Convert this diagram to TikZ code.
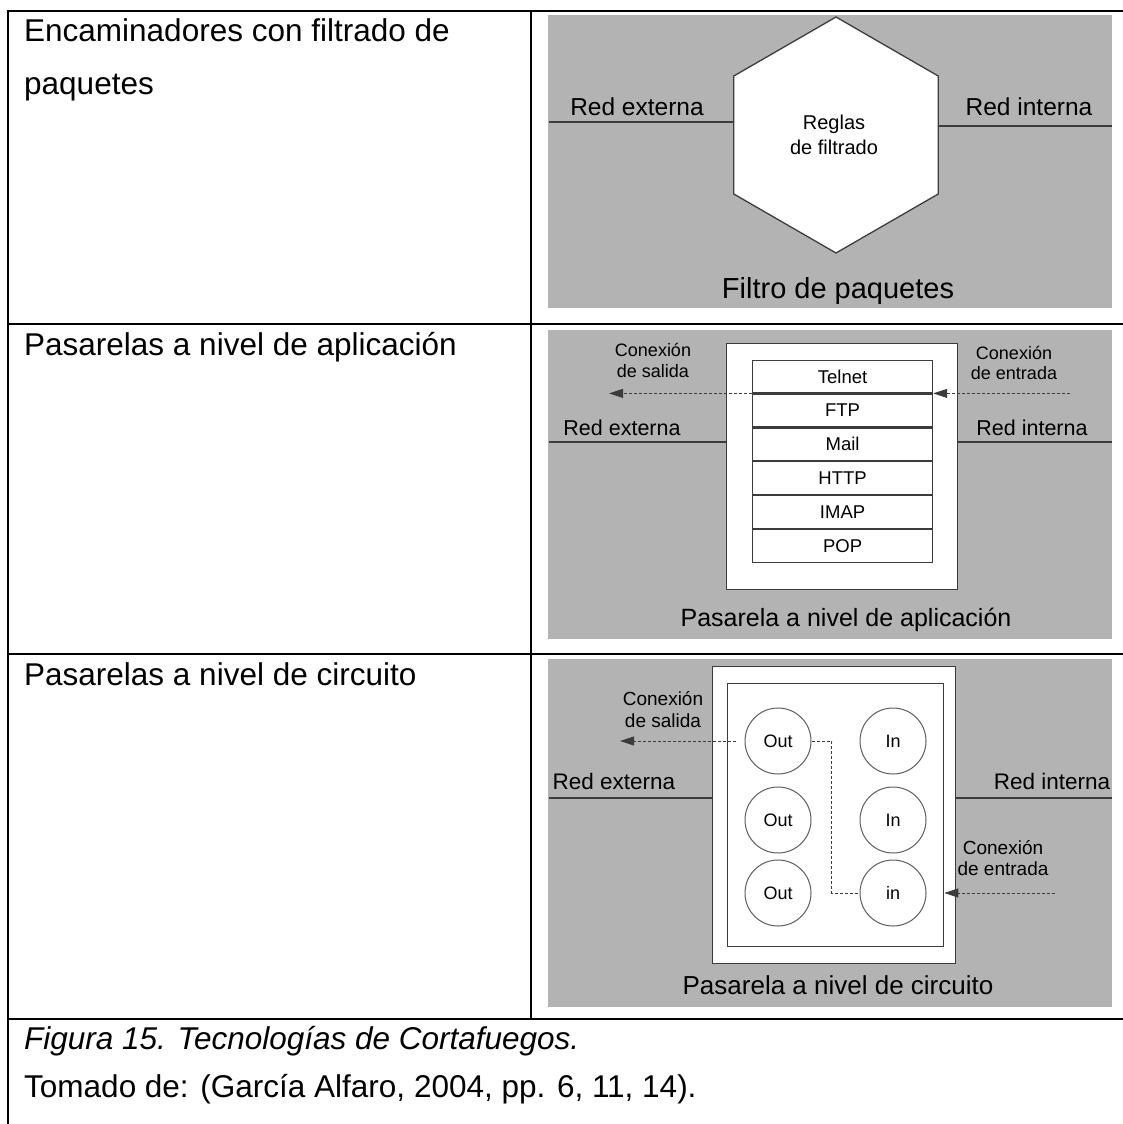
\documentclass[tikz,border=0pt]{standalone}
\usepackage{fontspec}
\setmainfont{Liberation Sans}
\usetikzlibrary{arrows.meta,calc}
\definecolor{panelgray}{RGB}{179,179,179}
\definecolor{inkgray}{RGB}{60,60,60}
\definecolor{ringgray}{RGB}{95,95,95}
\newcommand{\fsz}[1]{\fontsize{#1}{#1}\selectfont}
\begin{document}
\begin{tikzpicture}[x=1pt,y=-1pt,
  rule/.style={line width=2.6pt,black},
  panel/.style={fill=panelgray,draw=none},
  ink/.style={draw=inkgray,line width=1.3pt},
  flow/.style={draw=inkgray,line width=0.9pt,dash pattern=on 3pt off 2pt},
  tip/.style={-{Triangle[length=14pt,width=9pt]}},
  celltext/.style={font=\fsz{31.5},anchor=base west,inner sep=0pt},
  lab/.style={anchor=base,inner sep=0pt},
  boxrow/.style={draw=inkgray,line width=1.2pt,fill=white,minimum width=180pt,
    minimum height=32.7pt,inner sep=0pt,anchor=north west,font=\fsz{18.5}},
  port/.style={circle,draw=ringgray,line width=1pt,fill=white,minimum size=66pt,
    inner sep=0pt,font=\fsz{18}},
]
\useasboundingbox (0,0) rectangle (1123,1124);

% ---------- table rules ----------
\draw[rule] (6.7,11) -- (1123,11);
\draw[rule] (6.7,324) -- (1123,324);
\draw[rule] (6.7,654) -- (1123,654);
\draw[rule] (6.7,1019) -- (1123,1019);
\draw[rule] (8,9.7) -- (8,1124);
\draw[rule] (531,11) -- (531,1019);

% ---------- left column ----------
\node[celltext] (t1a) at (24,42) {Encaminadores con filtrado de};
\node[celltext] (t1b) at (24,94) {paquetes};
\node[celltext] (t2) at (24,355) {Pasarelas a nivel de aplicación};
\node[celltext] (t3) at (24,685) {Pasarelas a nivel de circuito};
\node[celltext,font=\fsz{31.5}\itshape] (cap) at (24,1049) {Figura 15. Tecnologías de Cortafuegos.};
\node[celltext] (src) at (24,1097) {Tomado de: (García Alfaro, 2004, pp. 6, 11, 14).};

% ---------- packet filter ----------
\fill[panel] (548,15) rectangle (1112,308);
\coordinate (h1) at (836,17);
\coordinate (h2) at (938.2,76);
\coordinate (h3) at (938.2,194);
\coordinate (h4) at (836,253);
\coordinate (h5) at (733.8,194);
\coordinate (h6) at (733.8,76);
\filldraw[ink,fill=white] (h1) -- (h2) -- (h3) -- (h4) -- (h5) -- (h6) -- cycle;
\coordinate (pfL) at (549,122);
\coordinate (pfR) at (1112,126);
\draw[ink] (pfL) -- (pfL -| h6);
\draw[ink] (pfR -| h2) -- (pfR);
\node[lab,font=\fsz{24.5}] (pfext) at (637,115) {Red externa};
\node[lab,font=\fsz{24.5}] (pfint) at (1029,115) {Red interna};
\node[lab,font=\fsz{20}] (rules1) at (834,129) {Reglas};
\node[lab,font=\fsz{20}] (rules2) at (834,154) {de filtrado};
\node[lab,font=\fsz{29}] (pftitle) at (838,298) {Filtro de paquetes};

% ---------- application gateway ----------
\fill[panel] (548,330) rectangle (1112,639);
\node[draw=inkgray,line width=1.3pt,fill=white,minimum width=231pt,minimum height=246pt,
  inner sep=0pt,anchor=north west] (app) at (726,343) {};
\node[boxrow] (telnet) at (752,359.5) {Telnet};
\node[boxrow] (ftp) at (telnet.south west) {FTP};
\node[boxrow] (mail) at (ftp.south west) {Mail};
\node[boxrow] (http) at (mail.south west) {HTTP};
\node[boxrow] (imap) at (http.south west) {IMAP};
\node[boxrow] (pop) at (imap.south west) {POP};
\coordinate (agL) at (549,442);
\coordinate (agR) at (1112,442);
\draw[ink] (agL) -- (agL -| app.west);
\draw[ink] (agR -| app.east) -- (agR);
\coordinate (agOut) at (609,0 |- telnet.south);
\coordinate (agIn) at (1070,0 |- telnet.south);
\draw[flow,tip] (telnet.south west) -- (agOut);
\draw[flow,tip] (agIn) -- (telnet.south east);
\node[lab,font=\fsz{21.5}] (agext) at (622,435) {Red externa};
\node[lab,font=\fsz{21.5}] (agint) at (1032,435) {Red interna};
\node[lab,font=\fsz{18}] (ago1) at (653,356) {Conexión};
\node[lab,font=\fsz{18}] (ago2) at (653,377) {de salida};
\node[lab,font=\fsz{18}] (agi1) at (1014,359) {Conexión};
\node[lab,font=\fsz{18}] (agi2) at (1014,379) {de entrada};
\node[lab,font=\fsz{25}] (agtitle) at (846,626) {Pasarela a nivel de aplicación};

% ---------- circuit gateway ----------
\fill[panel] (548,659) rectangle (1112,1007);
\node[draw=inkgray,line width=1.3pt,fill=white,minimum width=243pt,minimum height=297pt,
  inner sep=0pt,anchor=north west] (circ) at (712,666) {};
\node[draw=inkgray,line width=1.3pt,fill=white,minimum width=216pt,minimum height=263pt,
  inner sep=0pt,anchor=north west] (core) at (727,683) {};
\node[port] (out1) at (778,741) {Out};
\node[port] (out2) at (778,820) {Out};
\node[port] (out3) at (778,893) {Out};
\node[port] (in1) at (893,741) {In};
\node[port] (in2) at (893,820) {In};
\node[port] (in3) at (893,893) {in};
\coordinate (cgL) at (549,798);
\coordinate (cgR) at (1112,798);
\draw[ink] (cgL) -- (cgL -| circ.west);
\draw[ink] (cgR -| circ.east) -- (cgR);
\coordinate (cgOut) at (620,0 |- out1);
\coordinate (cgIn) at (1055,0 |- in3);
\draw[flow,tip,shorten <=9pt] (out1.west) -- (cgOut);
\draw[flow] (out1.east) -- ++(20,0) |- (in3.west);
\draw[flow,tip] (cgIn) -- (core.east |- in3);
\node[lab,font=\fsz{22.5}] (cgext) at (614,789) {Red externa};
\node[lab,font=\fsz{22.5}] (cgint) at (1052,789) {Red interna};
\node[lab,font=\fsz{19}] (cgo1) at (663,705) {Conexión};
\node[lab,font=\fsz{19}] (cgo2) at (663,727) {de salida};
\node[lab,font=\fsz{19}] (cgi1) at (1003,854) {Conexión};
\node[lab,font=\fsz{19}] (cgi2) at (1003,875) {de entrada};
\node[lab,font=\fsz{26}] (cgtitle) at (838,994) {Pasarela a nivel de circuito};
\end{tikzpicture}
\end{document}
